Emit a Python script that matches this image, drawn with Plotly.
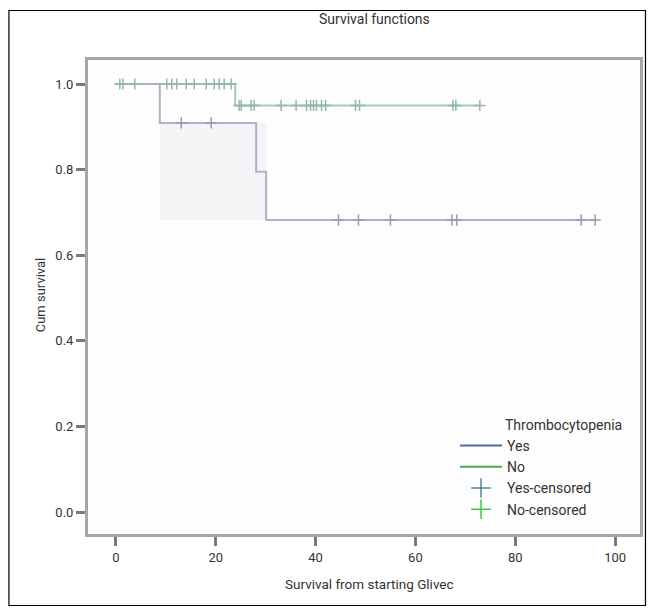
import plotly.graph_objects as go

# ---- data ----
yes_times = [0, 8.8, 28.1, 30.1, 96.0]
yes_surv = [1.0, 0.909, 0.795, 0.682, 0.682]
no_times = [0, 23.9, 73.1]
no_surv = [1.0, 0.95, 0.95]

yes_cens_t = [13.1, 19.1, 44.6, 48.6, 55.0, 67.3, 68.3, 93.2, 96.0]
yes_cens_s = [0.909, 0.909, 0.682, 0.682, 0.682, 0.682, 0.682, 0.682, 0.682]
no_cens_t = [0.8, 1.4, 3.8, 10.2, 11.2, 12.2, 14.1, 15.7, 18.1, 19.7, 20.7, 21.7, 23.1,
             24.7, 25.1, 27.1, 27.7, 33.1, 36.1, 38.2, 39.0, 39.6, 40.2, 41.2, 42.0,
             48.0, 48.8, 67.5, 68.1, 72.9]
no_cens_s = [1.0] * 13 + [0.95] * 17

x_ticks = [0, 20, 40, 60, 80, 100]
y_ticks = [0.0, 0.2, 0.4, 0.6, 0.8, 1.0]

W, H = 650, 613
L, R, T, B = 88, 643, 60, 534


def px(v):
    return (v - L) / (R - L)


def py(v):
    return (B - v) / (B - T)


FONT = "Roboto"
TXT = "#333333"

fig = go.Figure()

# light shaded block spanning the Yes group's drops
drop_t = yes_times[1:-1]
fx0, fx1 = drop_t[0], drop_t[-1]
fy0, fy1 = min(yes_surv), yes_surv[1]
fig.add_trace(go.Scatter(x=[fx0, fx1, fx1, fx0, fx0], y=[fy0, fy0, fy1, fy1, fy0],
                         mode="lines", fill="toself", fillcolor="#f4f4f6",
                         line=dict(width=0), showlegend=False, hoverinfo="skip"))

fig.add_trace(go.Scatter(x=no_times, y=no_surv, mode="lines", line_shape="hv",
                         line=dict(color="#a9c9bd", width=2), showlegend=False))
fig.add_trace(go.Scatter(x=yes_times, y=yes_surv, mode="lines", line_shape="hv",
                         line=dict(color="#b0b0c8", width=2), showlegend=False))
fig.add_trace(go.Scatter(x=no_cens_t, y=no_cens_s, mode="markers",
                         marker=dict(symbol="cross-thin", size=8,
                                     line=dict(color="#93b8ab", width=1.5)),
                         showlegend=False))
fig.add_trace(go.Scatter(x=yes_cens_t, y=yes_cens_s, mode="markers",
                         marker=dict(symbol="cross-thin", size=8,
                                     line=dict(color="#9a9ab0", width=1.5)),
                         showlegend=False))

# legend entries
fig.add_trace(go.Scatter(x=[None], y=[None], mode="lines", name="Yes",
                         line=dict(color="#5468a6", width=2)))
fig.add_trace(go.Scatter(x=[None], y=[None], mode="lines", name="No",
                         line=dict(color="#4fa653", width=2)))
fig.add_trace(go.Scatter(x=[None], y=[None], mode="markers", name="Yes-censored",
                         marker=dict(symbol="cross-thin", size=14,
                                     line=dict(color="#5683a6", width=1.5))))
fig.add_trace(go.Scatter(x=[None], y=[None], mode="markers", name="No-censored",
                         marker=dict(symbol="cross-thin", size=14,
                                     line=dict(color="#3fc24f", width=1.5))))

fig.update_layout(
    width=W, height=H,
    margin=dict(l=L, r=W - R, t=T, b=H - B),
    paper_bgcolor="white", plot_bgcolor="#fdfdfd",
    font=dict(family=FONT, size=13, color=TXT),
    showlegend=True,
    hovermode=False,
    legend=dict(x=px(457), y=py(430), xanchor="left", yanchor="top",
                bgcolor="rgba(0,0,0,0)", font=dict(size=14, color=TXT),
                tracegroupgap=0, itemwidth=42),
)

fig.update_xaxes(range=[(L - 116) / 5.02, (R - 116) / 5.02], tickvals=x_ticks,
                 ticktext=[str(v) for v in x_ticks],
                 showgrid=False, zeroline=False, showline=True, linewidth=3,
                 linecolor="#a6a6a6", mirror=True, ticks="outside", ticklen=9,
                 tickwidth=3, tickcolor="#7a7a7a", tickfont=dict(size=13, color=TXT))
fig.update_yaxes(range=[-(B - 512) / 428, 1 + (84 - T) / 428], tickvals=y_ticks,
                 ticktext=[f"{v:.1f}" for v in y_ticks],
                 showgrid=False, zeroline=False, showline=True, linewidth=3,
                 linecolor="#a6a6a6", mirror=True, ticks="outside", ticklen=9,
                 tickwidth=3, tickcolor="#7a7a7a", tickfont=dict(size=13, color=TXT))

fig.add_annotation(text="Survival functions", x=px(376), y=py(19), xref="paper", yref="paper",
                   xanchor="center", yanchor="middle",
                   showarrow=False, font=dict(size=14, color=TXT))
fig.add_annotation(text="Survival from starting Glivec", x=px(371), y=py(584),
                   xref="paper", yref="paper", xanchor="center", yanchor="middle",
                   showarrow=False, font=dict(size=13.5, color=TXT))
fig.add_annotation(text="Cum survival", x=px(40), y=py(295), xref="paper", yref="paper",
                   xanchor="center", yanchor="middle",
                   showarrow=False, textangle=-90, font=dict(size=13, color=TXT))
fig.add_annotation(text="Thrombocytopenia", x=px(505), y=py(425), xref="paper",
                   yref="paper", xanchor="left", yanchor="middle", showarrow=False,
                   font=dict(size=14, color=TXT))

fig.add_shape(type="rect", xref="paper", yref="paper",
              x0=px(8.5), x1=px(648.5), y0=py(605.5), y1=py(10.5),
              line=dict(color="black", width=1.2), layer="below")

fig.write_html("out.html", config={"displayModeBar": False},
               post_script="document.body.style.margin='0px';")
